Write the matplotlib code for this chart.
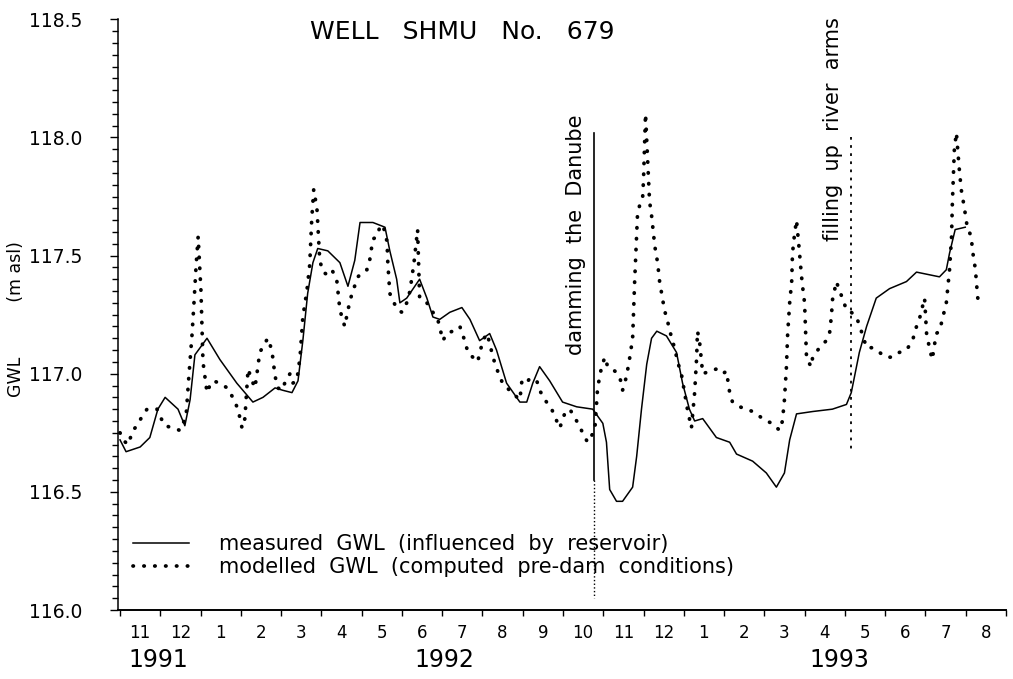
# -*- coding: utf-8 -*-

import numpy as np
import matplotlib
matplotlib.use("Agg")
import matplotlib.pyplot as plt
from matplotlib.ticker import FixedLocator, MultipleLocator, NullFormatter

# time axis: months since 1 Nov 1991
month_labels = ["11", "12", "1", "2", "3", "4", "5", "6", "7", "8", "9", "10",
                "11", "12", "1", "2", "3", "4", "5", "6", "7", "8"]
year_labels = ["1991", "1992", "1993"]

# measured GWL (influenced by reservoir), m asl
t_meas = [0.00, 0.15, 0.50, 0.74, 0.94, 1.12, 1.44, 1.61, 1.74, 1.86,
          2.16, 2.48, 2.90, 3.30, 3.55, 3.85, 4.04, 4.27, 4.42, 4.54,
          4.66, 4.79, 4.91, 5.16, 5.46, 5.66, 5.83, 5.96, 6.28, 6.58,
          6.70, 6.87, 6.95, 7.12, 7.44, 7.62, 7.77, 7.94, 8.19, 8.49,
          8.69, 8.93, 9.18, 9.35, 9.60, 9.93, 10.10, 10.25, 10.42, 10.67,
          10.99, 11.34, 11.74, 11.99, 12.08, 12.16, 12.33, 12.48, 12.73, 12.83,
          12.95, 13.08, 13.20, 13.33, 13.57, 13.82, 13.97, 14.14, 14.27, 14.47,
          14.81, 15.14, 15.31, 15.71, 16.05, 16.30, 16.50, 16.63, 16.80, 17.20,
          17.69, 18.04, 18.16, 18.36, 18.54, 18.78, 19.11, 19.53, 19.78, 20.35,
          20.52, 20.60, 20.74, 20.99]
gwl_meas = [116.72, 116.67, 116.69, 116.73, 116.85, 116.90, 116.85, 116.78, 116.89, 117.08,
            117.15, 117.06, 116.96, 116.88, 116.90, 116.94, 116.93, 116.92, 116.97, 117.14,
            117.34, 117.47, 117.53, 117.52, 117.47, 117.37, 117.48, 117.64, 117.64, 117.62,
            117.52, 117.40, 117.30, 117.32, 117.40, 117.32, 117.24, 117.23, 117.26, 117.28,
            117.23, 117.14, 117.17, 117.10, 116.96, 116.88, 116.88, 116.96, 117.03, 116.97,
            116.88, 116.86, 116.85, 116.79, 116.71, 116.51, 116.46, 116.46, 116.52, 116.65,
            116.85, 117.04, 117.15, 117.18, 117.16, 117.09, 116.96, 116.85, 116.80, 116.81,
            116.73, 116.71, 116.66, 116.63, 116.58, 116.52, 116.58, 116.72, 116.83, 116.84,
            116.85, 116.87, 116.92, 117.09, 117.20, 117.32, 117.36, 117.39, 117.43, 117.41,
            117.44, 117.51, 117.61, 117.62]

# modelled GWL (computed pre-dam conditions), m asl
t_mod = [0.00, 0.07, 0.20, 0.32, 0.42, 0.55, 0.67, 0.79, 0.92, 0.99,
         1.12, 1.32, 1.49, 1.64, 1.71, 1.79, 1.84, 1.89, 1.94, 2.01,
         2.06, 2.16, 2.23, 2.31, 2.48, 2.66, 2.80, 2.93, 3.03, 3.10,
         3.18, 3.28, 3.35, 3.40, 3.47, 3.60, 3.67, 3.77, 3.85, 3.92,
         4.02, 4.09, 4.22, 4.29, 4.39, 4.47, 4.54, 4.64, 4.71, 4.76,
         4.79, 4.81, 4.89, 4.96, 5.04, 5.14, 5.26, 5.38, 5.46, 5.53,
         5.58, 5.66, 5.76, 5.91, 6.01, 6.13, 6.20, 6.28, 6.38, 6.45,
         6.53, 6.63, 6.65, 6.70, 6.77, 6.90, 7.00, 7.12, 7.20, 7.30,
         7.39, 7.44, 7.62, 7.77, 7.89, 8.02, 8.11, 8.26, 8.44, 8.56,
         8.64, 8.76, 8.88, 9.01, 9.11, 9.18, 9.26, 9.38, 9.50, 9.73,
         9.93, 9.98, 10.10, 10.17, 10.35, 10.42, 10.55, 10.72, 10.92, 11.04,
         11.17, 11.34, 11.49, 11.61, 11.79, 11.86, 11.96, 12.04, 12.11, 12.23,
         12.36, 12.46, 12.48, 12.58, 12.66, 12.73, 12.78, 12.85, 12.90, 12.98,
         13.00, 13.03, 13.05, 13.15, 13.20, 13.23, 13.28, 13.35, 13.40, 13.47,
         13.52, 13.60, 13.70, 13.77, 13.85, 13.95, 14.02, 14.09, 14.19, 14.27,
         14.32, 14.34, 14.39, 14.47, 14.64, 14.81, 14.96, 15.06, 15.14, 15.21,
         15.39, 15.56, 15.71, 15.88, 16.05, 16.20, 16.38, 16.45, 16.50, 16.55,
         16.58, 16.63, 16.68, 16.70, 16.75, 16.80, 16.87, 16.92, 16.95, 17.00,
         17.05, 17.17, 17.20, 17.37, 17.54, 17.62, 17.67, 17.69, 17.79, 17.87,
         17.94, 18.04, 18.16, 18.29, 18.41, 18.54, 18.69, 18.86, 19.03, 19.18,
         19.35, 19.53, 19.68, 19.78, 19.85, 19.98, 20.03, 20.10, 20.17, 20.27,
         20.35, 20.42, 20.52, 20.60, 20.65, 20.67, 20.72, 20.77, 20.84, 20.89,
         20.97, 21.04, 21.14, 21.17, 21.22, 21.27, 21.29, 21.34]
gwl_mod = [116.75, 116.72, 116.70, 116.76, 116.78, 116.82, 116.85, 116.85, 116.85, 116.82,
           116.78, 116.77, 116.76, 116.82, 116.99, 117.17, 117.31, 117.46, 117.58, 117.35,
           117.05, 116.92, 116.95, 116.97, 116.96, 116.94, 116.90, 116.85, 116.77, 116.81,
           117.02, 116.97, 116.94, 117.00, 117.09, 117.13, 117.15, 117.10, 116.99, 116.94,
           116.93, 116.96, 117.00, 116.96, 116.97, 117.07, 117.24, 117.35, 117.46, 117.65,
           117.73, 117.78, 117.70, 117.48, 117.43, 117.42, 117.44, 117.40, 117.27, 117.23,
           117.20, 117.27, 117.34, 117.41, 117.43, 117.44, 117.48, 117.57, 117.58, 117.62,
           117.63, 117.56, 117.47, 117.34, 117.31, 117.27, 117.26, 117.30, 117.35, 117.47,
           117.61, 117.32, 117.30, 117.26, 117.23, 117.14, 117.17, 117.18, 117.20, 117.14,
           117.09, 117.07, 117.05, 117.14, 117.17, 117.13, 117.07, 117.01, 116.96, 116.92,
           116.89, 116.97, 116.96, 116.98, 116.97, 116.93, 116.89, 116.85, 116.77, 116.83,
           116.85, 116.80, 116.75, 116.71, 116.76, 116.94, 117.03, 117.07, 117.03, 117.02,
           117.00, 116.96, 116.93, 116.99, 117.07, 117.15, 117.39, 117.67, 117.71, 117.75,
           117.82, 117.98, 118.10, 117.73, 117.67, 117.62, 117.54, 117.47, 117.39, 117.32,
           117.27, 117.22, 117.15, 117.11, 117.05, 116.99, 116.92, 116.85, 116.77, 116.92,
           117.07, 117.18, 117.14, 117.00, 117.01, 117.02, 117.00, 117.01, 116.92, 116.88,
           116.86, 116.85, 116.84, 116.82, 116.80, 116.79, 116.76, 116.80, 116.89, 117.03,
           117.17, 117.30, 117.39, 117.51, 117.59, 117.65, 117.52, 117.42, 117.37, 117.30,
           117.06, 117.03, 117.07, 117.11, 117.14, 117.17, 117.25, 117.31, 117.39, 117.35,
           117.32, 117.27, 117.26, 117.24, 117.18, 117.11, 117.11, 117.09, 117.07, 117.07,
           117.09, 117.10, 117.14, 117.20, 117.23, 117.32, 117.17, 117.11, 117.06, 117.17,
           117.18, 117.23, 117.30, 117.44, 117.58, 117.72, 117.95, 118.02, 117.87, 117.78,
           117.70, 117.62, 117.58, 117.52, 117.47, 117.39, 117.33, 117.29]

# events
t_damming = 11.78
t_filling = 18.15

fig = plt.figure(figsize=(10.13, 6.79), dpi=100)
ax = fig.add_axes([0.1165, 0.1016, 0.8765, 0.870])

ax.plot(t_meas, gwl_meas, color="black", lw=1.1,
        label="measured  GWL  (influenced  by  reservoir)")
ax.plot(t_mod, gwl_mod, color="black", lw=2.7, linestyle=(0, (0.1, 2.8)),
        dash_capstyle="round",
        label="modelled  GWL  (computed  pre-dam  conditions)")

# event lines
ax.plot([t_damming, t_damming], [118.02, 116.55], color="black", lw=1.2)
ax.plot([t_damming, t_damming], [116.55, 116.05], color="black", lw=1.0, linestyle=":")
ax.plot([t_filling, t_filling], [118.0, 116.67], color="black", lw=1.3,
        linestyle=(0, (1.5, 3)))
ax.text(t_damming - 0.45, 117.08, "damming  the  Danube", rotation=90,
        fontsize=15, ha="center", va="bottom")
ax.text(t_filling - 0.45, 117.56, "filling  up  river  arms", rotation=90,
        fontsize=15, ha="center", va="bottom")

ax.set_xlim(-0.05, 22.0)
ax.set_ylim(116.0, 118.5)

for s in ["top", "right"]:
    ax.spines[s].set_visible(False)
ax.spines["bottom"].set_linewidth(1.4)
ax.spines["left"].set_linewidth(1.1)

ax.yaxis.set_minor_locator(MultipleLocator(0.05))
ax.set_yticks(np.arange(116.0, 118.51, 0.5))
ax.set_yticklabels(["%.1f" % v for v in np.arange(116.0, 118.51, 0.5)])
ax.tick_params(axis="y", which="major", length=6, width=1.0, labelsize=13.5, pad=20)
ax.tick_params(axis="y", which="minor", length=4, width=1.0)

ax.xaxis.set_major_locator(FixedLocator(np.arange(0, 23)))
ax.xaxis.set_major_formatter(NullFormatter())
ax.xaxis.set_minor_locator(FixedLocator(np.arange(22) + 0.5))
ax.set_xticklabels(month_labels, minor=True)
ax.tick_params(axis="x", which="major", length=4, width=1.0, direction="out")
ax.tick_params(axis="x", which="minor", length=0, labelsize=12, pad=10)

ax.legend(loc="center left", bbox_to_anchor=(0.017, 0.092), frameon=False,
          fontsize=15, handlelength=2.7, handletextpad=1.4, labelspacing=0.15,
          borderpad=0, borderaxespad=0)

fig.text(0.456, 0.953, "WELL   SHMU   No.   679", fontsize=18, ha="center", va="center")
fig.text(0.016, 0.53, "GWL          (m asl)", fontsize=12.5, rotation=90,
         ha="center", va="center")
for x, lab in zip([0.156, 0.439, 0.829], year_labels):
    fig.text(x, 1 - 660 / 679, lab, fontsize=17, ha="center", va="center")

fig.savefig("out.png", dpi=100)
